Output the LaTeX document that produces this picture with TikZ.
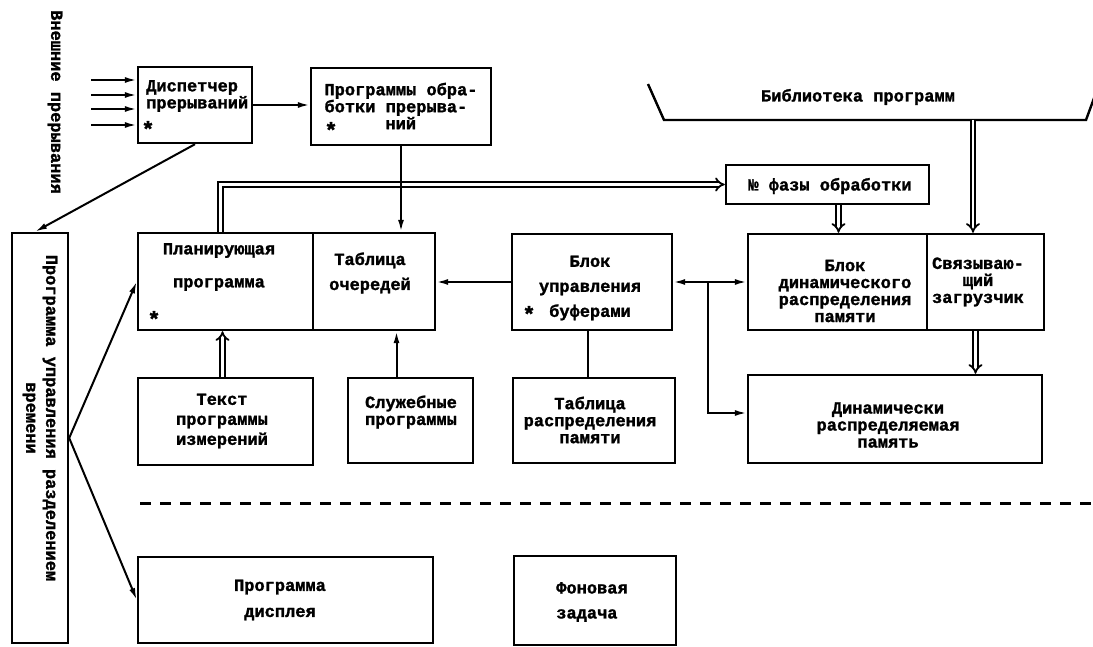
\documentclass[tikz,border=0pt]{standalone}
\usepackage{fontspec}
\setmainfont{Liberation Mono}[BoldFeatures={FakeBold=1.5}]
\usetikzlibrary{arrows.meta,calc}
\newcommand\fnt{\fontsize{17}{17}\selectfont\bfseries}
\begin{document}
\begin{tikzpicture}[x=1pt,y=-1pt,
  box/.style 2 args={draw,line width=2.4pt,inner sep=0pt,minimum width=#1,minimum height=#2},
  txt/.style={font=\fnt,inner sep=0pt,align=center},
  ast/.style={font=\fontsize{22}{22}\selectfont\bfseries,inner sep=0pt},
  ln/.style={line width=2pt},
  arr/.style={line width=2pt,-{Latex[length=12pt,width=6pt]}},
  arrb/.style={line width=2pt,{Latex[length=12pt,width=6pt]}-{Latex[length=12pt,width=6pt]}},
  dbl/.style={line width=1.8pt,double,double distance=2.8pt,-{Implies}},
  dsh/.style={line width=3pt,dash pattern=on 11pt off 9pt}]
\useasboundingbox (0,0) rectangle (1093,647);

% boxes
\node[box={114pt}{76pt}] (dsp) at (195,105) {};
\node[box={180pt}{77pt}] (isr) at (401,106.5) {};
\node[box={203pt}{39pt}] (phase) at (827.5,184.5) {};
\node[box={175pt}{97pt}] (plan) at (225.5,281.5) {};
\node[box={122pt}{97pt}] (tabl) at (374,281.5) {};
\node[box={160pt}{96pt}] (buf) at (592,282) {};
\node[box={179pt}{96pt}] (dyn) at (837.5,282) {};
\node[box={117pt}{96pt}] (link) at (985.5,282) {};
\node[box={294pt}{88pt}] (dmem) at (895,419) {};
\node[box={175pt}{87pt}] (txtm) at (225.5,421.5) {};
\node[box={125pt}{85pt}] (serv) at (410.5,420.5) {};
\node[box={162pt}{85pt}] (tdist) at (594,420.5) {};
\node[box={295pt}{86pt}] (disp) at (285.5,600) {};
\node[box={162pt}{89pt}] (fon) at (595,600.5) {};
\node[box={56pt}{410pt}] (ctrl) at (40,438) {};

% library
\draw[ln,line width=2.4pt] (648,84) -- (664,120) -- (1086,120) -- (1097,90);

% texts
\node[txt,rotate=-90] (ext) at (55,102) {Внешние прерывания};
\node[txt,align=left,anchor=west] (dspt) at (146,96) {Диспетчер\\прерываний};
\node[ast] (dspa) at (148,129) {*};
\node[txt,align=left] (isrt) at (401,106) {Программы обра-\\ботки прерыва-\\\hspace*{61pt}ний};
\node[ast] (isra) at (331,130) {*};
\node[txt] (phaset) at (830,186) {№ фазы обработки};
\node[txt] (libt) at (858,97) {Библиотека программ};
\node[txt] (plant) at (219,267) {Планирующая\\[16pt]программа};
\node[ast] (plana) at (154,319) {*};
\node[txt] (tablt) at (370,273) {Таблица\\[8pt]очередей};
\node[txt] (buft) at (590,288) {Блок\\[8pt]управления\\[8pt]буферами};
\node[ast] (bufa) at (529,314) {*};
\node[txt] (dynt) at (845,291) {Блок\\динамического\\распределения\\памяти};
\node[txt] (linkt) at (978,282) {Связываю-\\щий\\загрузчик};
\node[txt] (dmemt) at (888,425) {Динамически\\распределяемая\\память};
\node[txt] (txtmt) at (222,421) {Текст\\[3pt]программы\\[3pt]измерений};
\node[txt] (servt) at (411,412) {Служебные\\программы};
\node[txt] (tdistt) at (590,420) {Таблица\\распределения\\памяти};
\node[txt] (dispt) at (280,600) {Программа\\[9pt]дисплея};
\node[txt,align=left] (font) at (592,602) {Фоновая\\[8pt]задача};
\node[txt,rotate=-90] (ctrlt) at (40,418) {Программа управления разделением\\[3pt]времени};

% coordinates
\coordinate (in1) at (91,80);
\coordinate (in2) at (91,95);
\coordinate (in3) at (91,109);
\coordinate (in4) at (91,125);
\coordinate (pt) at ([xshift=-5pt]plan.north);
\coordinate (pb) at ([xshift=11pt]phase.south);
\coordinate (lb) at (973,120);
\coordinate (lk) at ([xshift=-10pt]link.south);
\coordinate (tm) at ([xshift=-3pt]txtm.north);
\coordinate (sv) at ([xshift=-14pt]serv.north);
\coordinate (td) at ([xshift=-6pt]tdist.north);
\coordinate (j) at ($(buf.east)!0.47!(dyn.west)$);
\coordinate (dm) at ([yshift=6pt]dmem.west);
\coordinate (ct) at ([xshift=-5pt]ctrl.north);
\coordinate (dl) at (140,503);
\coordinate (dr) at (1093,503);

% double connectors
\draw[dbl] (pt) |- (phase.west);
\draw[dbl] (pb) -- (pb |- dyn.north);
\draw[dbl] (lb) -- (lb |- link.north);
\draw[dbl] (lk) -- (lk |- dmem.north);
\draw[dbl] (tm) -- (tm |- plan.south);

% single connectors
\foreach \i in {in1,in2,in3,in4} \draw[arr] (\i) -- (\i -| dsp.west);
\draw[arr] (dsp.east) -- (dsp.east -| isr.west);
\draw[arr] (dsp.south) -- (ct);
\draw[arr] (ctrl.east) -- (plan.west);
\draw[arr] (ctrl.east) -- (disp.west);
\draw[arr] (isr.south) -- (isr.south |- tabl.north);
\draw[arr] (sv) -- (sv |- tabl.south);
\draw[ln] (td) -- (td |- buf.south);
\draw[arr] (buf.west) -- (buf.west -| tabl.east);
\draw[arrb] (buf.east) -- (dyn.west);
\draw[arr] (j) |- (dm);

% dashed separator
\draw[dsh] (dl) -- (dr);
\end{tikzpicture}
\end{document}
